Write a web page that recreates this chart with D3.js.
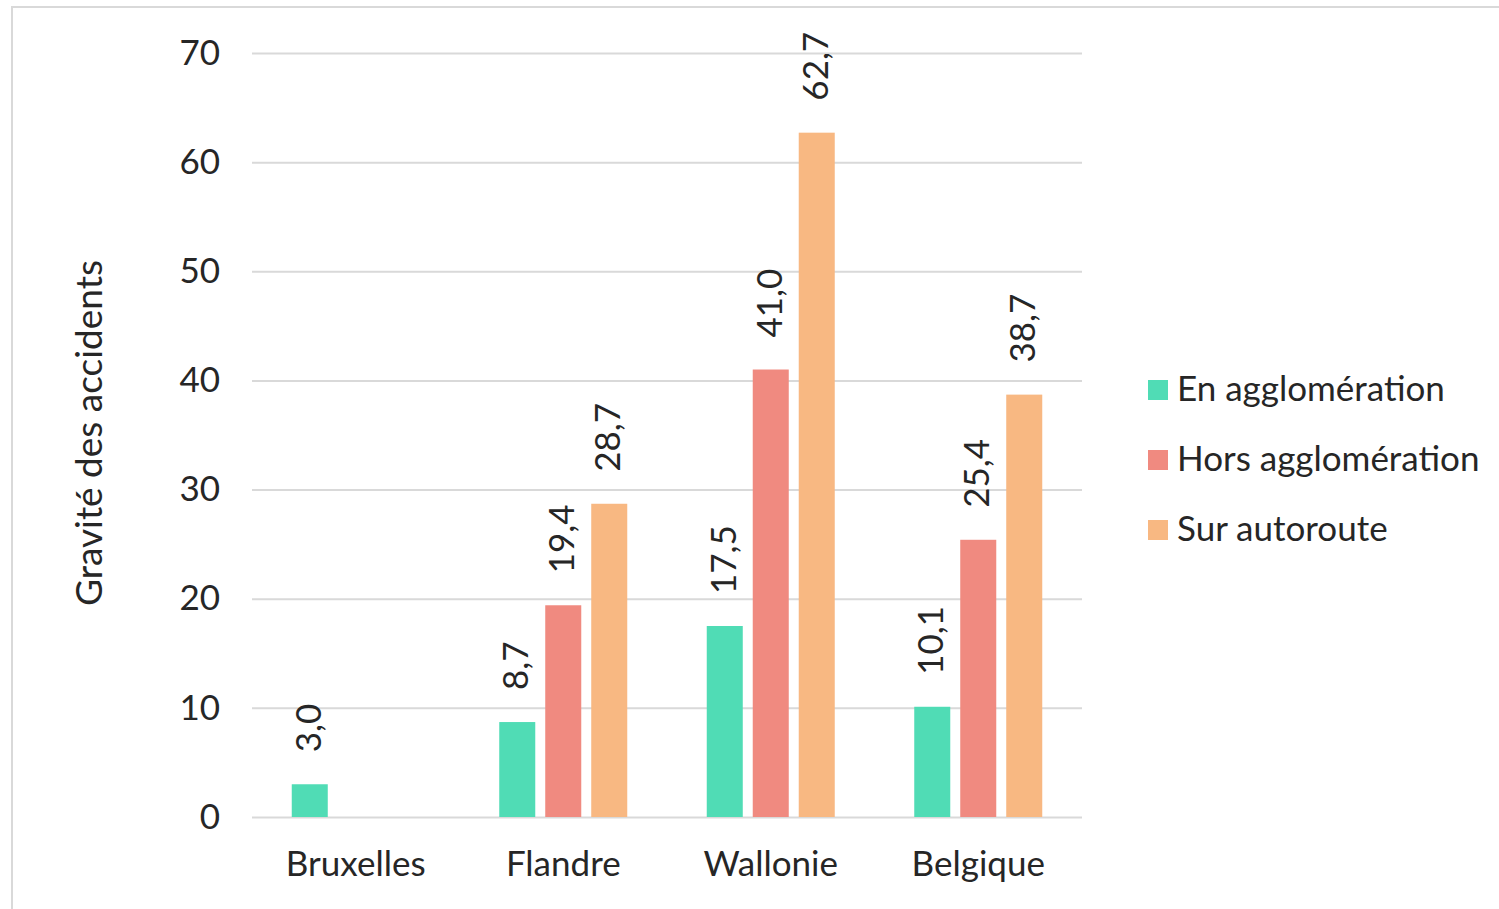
<!DOCTYPE html>
<html>
<head>
<meta charset="utf-8">
<script src="https://cdn.jsdelivr.net/npm/d3@7"></script>
<style>
  body { margin: 0; background: #fff; }
  text { font-family: Lato, "Open Sans", sans-serif; fill: #262626; }
</style>
</head>
<body>
<div id="chart-container"></div>
<script>
const regions = ["Bruxelles", "Flandre", "Wallonie", "Belgique"];
const seriesNames = ["En agglomération", "Hors agglomération", "Sur autoroute"];
const enAgglo = [3.0, 8.7, 17.5, 10.1];
const horsAgglo = [null, 19.4, 41.0, 25.4];
const autoroute = [null, 28.7, 62.7, 38.7];
const yTicks = [0, 10, 20, 30, 40, 50, 60, 70];
const colors = ["#50dcb5", "#f08a80", "#f8b882"];

function barChart() {
  const width = 1499;
  const height = 909;
  const margin = { top: 53, right: 417, bottom: 92, left: 252 };
  const innerW = width - margin.left - margin.right;
  const innerH = height - margin.top - margin.bottom;
  const fs = "35px";

  const svg = d3
    .select("#chart-container")
    .append("svg")
    .attr("width", width)
    .attr("height", height);

  // outer chart border
  svg
    .append("rect")
    .attr("x", 12)
    .attr("y", 7)
    .attr("width", width + 20)
    .attr("height", height + 20)
    .attr("fill", "none")
    .attr("stroke", "#d9d9d9")
    .attr("stroke-width", 2);

  const g = svg.append("g").attr("transform", `translate(${margin.left},${margin.top})`);

  const x0 = d3.scaleBand().domain(regions).range([0, innerW]);
  const x1 = d3.scaleBand().domain(d3.range(3)).range([-64, 64]).paddingInner(0.217);
  const y = d3.scaleLinear().domain([0, 70]).range([innerH, 0]);

  // gridlines
  const yAxis = g
    .append("g")
    .call(d3.axisLeft(y).tickValues(yTicks).tickSize(-innerW).tickPadding(32));
  yAxis.select(".domain").remove();
  yAxis.selectAll(".tick line").attr("stroke", "#d9d9d9").attr("stroke-width", 2);
  yAxis.selectAll("text").style("font-size", fs);

  const xAxis = g
    .append("g")
    .attr("transform", `translate(0,${innerH})`)
    .call(d3.axisBottom(x0).tickSize(0).tickPadding(34));
  xAxis.select(".domain").remove();
  xAxis.selectAll("text").style("font-size", fs);

  const data = regions.map((r, i) => ({
    region: r,
    values: [enAgglo[i], horsAgglo[i], autoroute[i]],
  }));

  const fmt = (v) => v.toFixed(1).replace(".", ",");

  const groups = g
    .selectAll(".grp")
    .data(data)
    .join("g")
    .attr("transform", (d) => `translate(${x0(d.region) + x0.bandwidth() / 2},0)`);

  const cells = groups
    .selectAll(".cell")
    .data((d) => d.values.map((v, k) => ({ v, k })).filter((e) => e.v != null))
    .join("g");

  cells
    .append("rect")
    .attr("x", (d) => x1(d.k))
    .attr("width", x1.bandwidth())
    .attr("y", (d) => y(d.v))
    .attr("height", (d) => y(0) - y(d.v))
    .attr("fill", (d) => colors[d.k]);

  cells
    .append("text")
    .attr(
      "transform",
      (d) => `translate(${x1(d.k) + x1.bandwidth() / 2 + 2},${y(d.v) - 32}) rotate(-90)`
    )
    .attr("dominant-baseline", "middle")
    .style("font-size", fs)
    .text((d) => fmt(d.v));

  // y axis title
  svg
    .append("text")
    .attr("transform", `translate(93,433) rotate(-90)`)
    .attr("text-anchor", "middle")
    .attr("dominant-baseline", "middle")
    .style("font-size", "37px")
    .text("Gravité des accidents");

  // legend
  const legend = svg
    .selectAll(".legend")
    .data(seriesNames)
    .join("g")
    .attr("transform", (d, i) => `translate(1148,${390 + i * 70})`);

  legend
    .append("rect")
    .attr("y", -10)
    .attr("width", 20)
    .attr("height", 20)
    .attr("fill", (d, i) => colors[i]);

  legend
    .append("text")
    .attr("x", 29)
    .attr("y", 2)
    .attr("dominant-baseline", "middle")
    .style("font-size", fs)
    .text((d) => d);
}

barChart();
</script>
</body>
</html>
